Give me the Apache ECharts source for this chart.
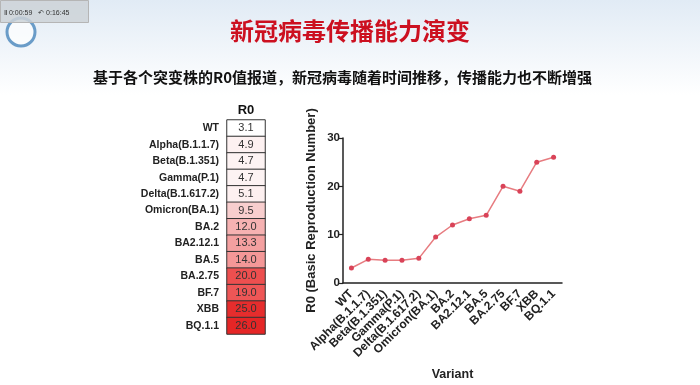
<!DOCTYPE html>
<html>
<head>
<meta charset="utf-8">
<script src="https://cdn.jsdelivr.net/npm/echarts@6/dist/echarts.min.js"></script>
<style>
html,body{margin:0;padding:0;background:#fff;}
#chart{width:700px;height:385px;}
</style>
</head>
<body>
<div id="chart"></div>
<script>
var titleText = '新冠病毒传播能力演变';
var subtitleText = '基于各个突变株的R0值报道，新冠病毒随着时间推移，传播能力也不断增强';
var variants = ['WT','Alpha(B.1.1.7)','Beta(B.1.351)','Gamma(P.1)','Delta(B.1.617.2)','Omicron(BA.1)','BA.2','BA2.12.1','BA.5','BA.2.75','BF.7','XBB','BQ.1.1'];
var r0Values = [3.1, 4.9, 4.7, 4.7, 5.1, 9.5, 12.0, 13.3, 14.0, 20.0, 19.0, 25.0, 26.0];
var tableHeader = ['R0'];
var yAxisName = 'R0 (Basic Reproduction Number)';
var xAxisName = 'Variant';

var heatData = r0Values.map(function(v, i){ return [0, i, v]; });
var font = 'Liberation Sans, Arial, sans-serif';
var cjk = 'Noto Sans CJK SC, sans-serif';

var chart = echarts.init(document.getElementById('chart'), null, {renderer:'canvas'});
chart.setOption({
  backgroundColor: '#ffffff',
  animation: false,
  graphic: [
    {type:'rect', left:0, top:0, shape:{width:700, height:95}, z:-10,
     style:{fill:new echarts.graphic.LinearGradient(0,0,0,1,[{offset:0,color:'#e1ebf5'},{offset:1,color:'#ffffff'}])}},
    {type:'circle', shape:{cx:21, cy:32, r:14}, z:-6, style:{fill:'rgba(255,255,255,0.7)', stroke:'#6a9cc8', lineWidth:3}},
    {type:'rect', left:0, top:0, shape:{width:88, height:22}, z:-5, style:{fill:'rgba(205,210,215,0.85)', stroke:'#b5b5b5'}},
    {type:'text', left:4, top:10, z:-4, style:{text:'Ⅱ 0:00:59   ↶ 0:16:45', fontSize:7, fill:'#333', fontFamily:font}},
    {type:'text', left:'center', top:19, style:{text:titleText, fontSize:24, fontWeight:'bold', fill:'#cc1020', fontFamily:cjk}},
    {type:'text', left:93, top:70, style:{text:subtitleText, fontSize:15, fontWeight:'bold', fill:'#111', fontFamily:cjk}}
  ],
  visualMap: {
    show:false, type:'continuous', seriesIndex:0, dimension:2,
    min:3.1, max:26,
    inRange:{color:['#ffffff','#f7c4c4','#ef5a5a','#e52626']}
  },
  grid: [
    {left:227, top:120, width:38, height:214},
    {left:343, top:138, right:138, bottom:102}
  ],
  xAxis: [
    {gridIndex:0, type:'category', data:tableHeader, position:'top',
     axisLine:{show:false}, axisTick:{show:false}, splitLine:{show:false},
     axisLabel:{fontSize:13, fontWeight:'bold', color:'#111', fontFamily:font, margin:3}},
    {gridIndex:1, type:'category', data:variants, boundaryGap:true,
     name:xAxisName, nameLocation:'middle', nameGap:85,
     nameTextStyle:{fontSize:12.5, fontWeight:'bold', color:'#222', fontFamily:font},
     axisLine:{lineStyle:{color:'#222', width:1.5}},
     axisTick:{alignWithLabel:true, length:5, lineStyle:{color:'#222', width:1.2}},
     axisLabel:{rotate:45, fontSize:12, fontWeight:'bold', color:'#222', fontFamily:font, margin:9, interval:0}}
  ],
  yAxis: [
    {gridIndex:0, type:'category', data:variants, inverse:true,
     axisLine:{show:false}, axisTick:{show:false}, splitLine:{show:false},
     axisLabel:{fontSize:10.5, fontWeight:'bold', color:'#222', fontFamily:font, margin:8}},
    {gridIndex:1, type:'value', min:0, max:30, interval:10,
     name:yAxisName, nameLocation:'middle', nameGap:25, nameRotate:90,
     nameTextStyle:{fontSize:13, fontWeight:'bold', color:'#222', fontFamily:font},
     axisLine:{show:true, lineStyle:{color:'#222', width:1.5}},
     axisTick:{show:true, length:5, lineStyle:{color:'#222', width:1.2}},
     splitLine:{show:false},
     axisLabel:{fontSize:11.5, fontWeight:'bold', color:'#222', fontFamily:font, margin:3}}
  ],
  series: [
    {type:'heatmap', xAxisIndex:0, yAxisIndex:0, data:heatData,
     itemStyle:{borderColor:'#333', borderWidth:1},
     label:{show:true, fontSize:11, color:'#333', fontFamily:font,
            formatter:function(p){return p.value[2].toFixed(1);}},
     emphasis:{disabled:true}},
    {type:'line', xAxisIndex:1, yAxisIndex:1, data:r0Values,
     symbol:'circle', symbolSize:5,
     lineStyle:{color:'#e77c80', width:1.5},
     itemStyle:{color:'#d94358'}}
  ]
});
</script>
</body>
</html>
